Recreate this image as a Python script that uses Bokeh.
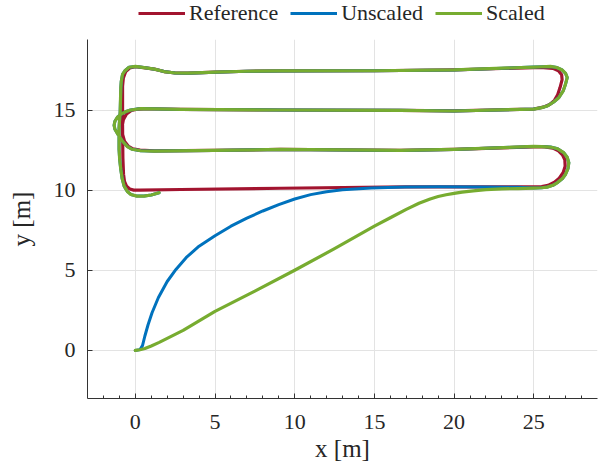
from bokeh.plotting import figure
from bokeh.layouts import column
from bokeh.models import Range1d, FixedTicker, Legend, LegendItem
from bokeh.embed import file_html
from bokeh.resources import INLINE

# Reference path (red)
ref_x = [0.3, 2.85, 9.12, 17.0, 25.0, 25.5, 25.9, 26.3, 26.6, 26.85, 26.97, 26.95, 26.8, 26.55,
         26.2, 25.7, 25.0, 20.0, 16.6, 9.1, 4.9, 1.2, 0.3, -0.15, -0.45, -0.68, -0.8, -0.82,
         -0.75, -0.55, -0.25, 0.2, 0.8, 2.85, 9.1, 16.6, 20.0, 25.0, 25.6, 26.0, 26.3, 26.5,
         26.65, 26.78, 26.75, 26.55, 26.2, 25.6, 25.0, 20.0, 15.0, 9.1, 7.0, 5.0, 4.2, 3.3,
         2.5, 1.8, 1.2, 0.5, 0.0, -0.35, -0.6, -0.75, -0.8, -0.8, -0.78, -0.74, -0.68, -0.55,
         -0.35, -0.1, 0.3]
ref_y = [10.0, 10.04, 10.12, 10.2, 10.2, 10.22, 10.3, 10.5, 10.75, 11.1, 11.5, 11.9, 12.2,
         12.45, 12.62, 12.7, 12.7, 12.54, 12.48, 12.54, 12.48, 12.45, 12.5, 12.58, 12.75, 13.05,
         13.5, 14.0, 14.4, 14.75, 14.97, 15.06, 15.08, 15.04, 15.0, 14.98, 14.95, 15.06, 15.18,
         15.35, 15.6, 15.95, 16.4, 16.9, 17.2, 17.45, 17.6, 17.65, 17.65, 17.5, 17.45, 17.44,
         17.42, 17.36, 17.33, 17.3, 17.31, 17.4, 17.55, 17.65, 17.7, 17.62, 17.4, 17.0, 16.5,
         14.0, 12.0, 11.0, 10.55, 10.25, 10.07, 10.0, 10.0]

# Scaled path (green)
scaled_x = [0.0, 0.3, 0.6, 1.0, 1.5, 3.0, 5.0, 7.5, 10.0, 12.5, 15.0, 16.0, 17.0, 17.8, 18.5,
            19.0, 19.5, 20.0, 20.5, 21.2, 22.0, 23.0, 24.0, 25.0, 25.5, 25.84, 26.2, 26.47, 26.8,
            26.99, 27.15, 27.2, 27.1, 26.88, 26.5, 26.05, 25.5, 25.0, 20.0, 16.65, 9.12, 4.94,
            1.18, 0.34, -0.2, -0.5, -0.8, -1.1, -1.28, -1.33, -1.28, -1.12, -0.91, -0.6, -0.3,
            0.34, 2.85, 9.1, 16.6, 20.0, 25.0, 25.5, 25.84, 26.25, 26.57, 26.85, 26.99, 27.1,
            27.0, 26.78, 26.45, 26.05, 25.5, 25.0, 20.0, 15.0, 9.1, 7.0, 5.0, 4.2, 3.3, 2.5, 1.8,
            1.2, 0.55, 0.0, -0.39, -0.65, -0.8, -0.88, -0.91, -0.95, -1.02, -1.02, -0.98, -0.91,
            -0.82, -0.7, -0.5, -0.28, 0.1, 0.55, 1.0, 1.49]
scaled_y = [0.0, 0.04, 0.12, 0.28, 0.5, 1.25, 2.44, 3.7, 5.0, 6.35, 7.75, 8.28, 8.8, 9.18, 9.45,
            9.6, 9.71, 9.8, 9.88, 9.96, 10.03, 10.08, 10.1, 10.13, 10.15, 10.19, 10.3, 10.46,
            10.72, 10.98, 11.35, 11.71, 12.05, 12.34, 12.58, 12.69, 12.72, 12.73, 12.54, 12.48,
            12.54, 12.48, 12.44, 12.46, 12.55, 12.72, 13.05, 13.5, 13.8, 14.05, 14.3, 14.55,
            14.73, 14.9, 15.0, 15.09, 15.04, 15.0, 14.98, 14.94, 15.06, 15.15, 15.25, 15.5, 15.77,
            16.2, 16.6, 17.02, 17.28, 17.5, 17.65, 17.72, 17.7, 17.68, 17.5, 17.45, 17.44, 17.42,
            17.36, 17.33, 17.3, 17.31, 17.4, 17.55, 17.65, 17.72, 17.67, 17.45, 17.23, 16.8,
            16.4, 14.9, 13.9, 12.54, 11.9, 11.29, 10.7, 10.25, 9.92, 9.73, 9.63, 9.63, 9.7, 9.84]

# Unscaled path (blue): its own approach, then it joins the scaled path
unscaled_lead_x = [0.0, 0.3, 0.45, 0.6, 0.8, 1.05, 1.45, 2.0, 2.55, 3.2, 4.0, 5.0, 6.0, 7.0,
                   8.0, 9.0, 10.0, 11.0, 12.0, 13.0, 14.8, 16.9, 19.0, 22.0, 24.0]
unscaled_lead_y = [0.0, 0.05, 0.3, 0.9, 1.6, 2.35, 3.3, 4.3, 5.05, 5.8, 6.5, 7.15, 7.75, 8.25,
                   8.7, 9.1, 9.45, 9.72, 9.9, 10.02, 10.13, 10.2, 10.22, 10.2, 10.18]
join_index = 23  # scaled path point where the unscaled path joins it
unscaled_x = unscaled_lead_x + scaled_x[join_index:]
unscaled_y = unscaled_lead_y + scaled_y[join_index:]

series_names = ["Reference", "Unscaled", "Scaled"]
x_ticks = [0, 5, 10, 15, 20, 25]
x_minor = [v for v in range(-2, 29) if v % 5 != 0]
y_ticks = [0, 5, 10, 15]

FONT = "Liberation Serif"
RED, BLUE, GREEN = "#A2142F", "#0072BD", "#77AC30"
COLORS = [RED, BLUE, GREEN]
TEXT = "#262626"

# ---- legend strip on top (its frame is aligned with the main plot's frame) ----
lg = figure(width=613, height=39, x_range=Range1d(0, 1), y_range=Range1d(0, 1),
            x_axis_type=None, y_axis_type=None, output_backend="svg", toolbar_location=None,
            min_border_left=87, min_border_right=16, min_border_top=0, min_border_bottom=0)
lg.outline_line_color = None
key_lines = [lg.line([-5], [-5], line_color=c, line_width=3.2) for c in COLORS]
legend = Legend(items=[LegendItem(label=n, renderers=[r]) for n, r in zip(series_names, key_lines)],
                orientation="horizontal", location=(51, 13),
                background_fill_alpha=0, border_line_color=None,
                label_text_font=FONT, label_text_font_size="22px", label_text_color=TEXT,
                glyph_width=47, glyph_height=20, label_height=20, label_standoff=4,
                spacing=12, padding=0, margin=0)
lg.add_layout(legend, "center")

# ---- main plot ----
p = figure(width=613, height=431, x_range=Range1d(-3, 29), y_range=Range1d(-3, 19.4),
           output_backend="svg", toolbar_location=None,
           min_border_left=87, min_border_right=16, min_border_top=0, min_border_bottom=72)
p.outline_line_color = None
p.background_fill_color = "white"

p.line(ref_x, ref_y, line_color=RED, line_width=3.2, line_join="round", line_cap="round")
p.line(unscaled_x, unscaled_y, line_color=BLUE, line_width=3.0, line_join="round",
       line_cap="round")
p.line(scaled_x, scaled_y, line_color=GREEN, line_width=3.2, line_join="round",
       line_cap="round")

p.xaxis.ticker = FixedTicker(ticks=x_ticks, minor_ticks=x_minor)
p.yaxis.ticker = FixedTicker(ticks=y_ticks, minor_ticks=[])
p.xgrid.grid_line_color = "#e3e3e3"
p.ygrid.grid_line_color = "#e3e3e3"
p.xgrid.level = "underlay"
p.ygrid.level = "underlay"

for ax in (p.xaxis[0], p.yaxis[0]):
    ax.axis_line_color = "#333333"
    ax.major_tick_line_color = "#333333"
    ax.minor_tick_line_color = "#333333"
    ax.major_tick_in = 5
    ax.major_tick_out = 0
    ax.minor_tick_in = 3
    ax.minor_tick_out = 0
    ax.major_label_text_font = FONT
    ax.major_label_text_font_size = "22px"
    ax.major_label_text_color = TEXT
    ax.axis_label_text_font = FONT
    ax.axis_label_text_font_size = "25px"
    ax.axis_label_text_font_style = "normal"
    ax.axis_label_text_color = TEXT

p.yaxis.minor_tick_line_color = None
p.xaxis.axis_label = "x [m]"
p.yaxis.axis_label = "y [m]"
p.xaxis.major_label_standoff = 16
p.yaxis.major_label_standoff = 12
p.xaxis.axis_label_standoff = 3
p.yaxis.axis_label_standoff = 16

layout = column(lg, p, spacing=0)
open("out.html", "w").write(file_html(layout, INLINE))
